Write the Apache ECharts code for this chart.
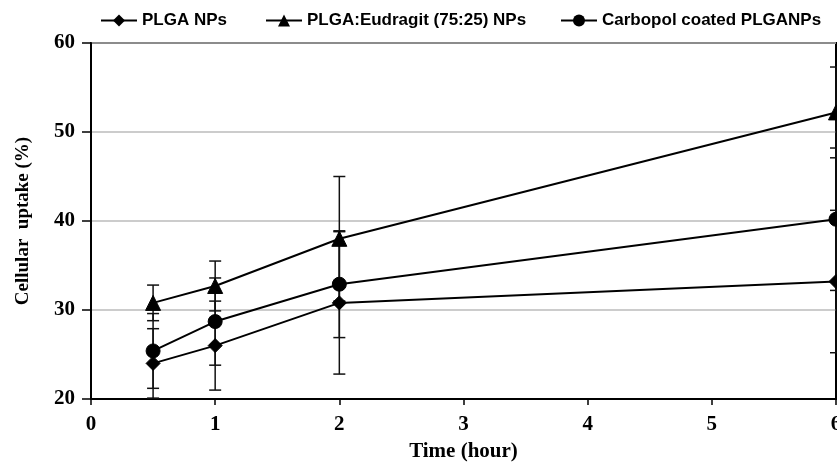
<!DOCTYPE html>
<html><head><meta charset="utf-8">
<script src="https://cdn.jsdelivr.net/npm/echarts@6/dist/echarts.min.js"></script>
<style>html,body{margin:0;padding:0;background:#fff}#c{width:837px;height:469px}</style>
</head><body><div id="c"></div>
<script>
const times = [0.5, 1, 2, 6];
const seriesNames = ['PLGA NPs', 'PLGA:Eudragit (75:25) NPs', 'Carbopol coated PLGANPs'];
const plgaVals = [24.0, 26.0, 30.8, 33.2];
const plgaErr = [3.9, 5.0, 8.0, 8.0];
const eudVals = [30.8, 32.7, 38.0, 52.2];
const eudErr = [2.0, 2.8, 7.0, 5.1];
const carbVals = [25.4, 28.7, 32.9, 40.2];
const carbErr = [4.2, 4.9, 6.0, 8.0];
const xTicks = [0, 1, 2, 3, 4, 5, 6];
const yTicks = [20, 30, 40, 50, 60];

const symbols = ['diamond', 'triangle', 'circle'];
const symSizes = [14, 15, 14];
const vals = [plgaVals, eudVals, carbVals];
const errs = [plgaErr, eudErr, carbErr];
const legendLefts = [100, 265, 560];

const serif = 'Liberation Serif, Times New Roman, serif';
const chart = echarts.init(document.getElementById('c'));

const series = [];
vals.forEach((v, si) => {
  series.push({
    type: 'custom',
    name: seriesNames[si] + ' err',
    z: 1,
    silent: true,
    data: times.map((t, i) => [t, v[i] - errs[si][i], v[i] + errs[si][i]]),
    renderItem: function (params, api) {
      const lo = api.coord([api.value(0), api.value(1)]);
      const hi = api.coord([api.value(0), api.value(2)]);
      const w = 6;
      const st = { stroke: '#111', lineWidth: 1.5 };
      return {
        type: 'group',
        children: [
          { type: 'line', shape: { x1: lo[0], y1: lo[1], x2: hi[0], y2: hi[1] }, style: st },
          { type: 'line', shape: { x1: lo[0] - w, y1: lo[1], x2: lo[0] + w, y2: lo[1] }, style: st },
          { type: 'line', shape: { x1: hi[0] - w, y1: hi[1], x2: hi[0] + w, y2: hi[1] }, style: st }
        ]
      };
    }
  });
});
vals.forEach((v, si) => {
  series.push({
    type: 'line',
    name: seriesNames[si],
    z: 3,
    data: times.map((t, i) => [t, v[i]]),
    symbol: symbols[si],
    symbolSize: symSizes[si],
    showAllSymbol: true,
    lineStyle: { color: '#000', width: 2 },
    itemStyle: { color: '#000', borderColor: '#000' }
  });
});

const legends = seriesNames.map((n, i) => ({
  data: [n],
  left: legendLefts[i],
  top: 12,
  padding: 0,
  itemWidth: 36,
  itemHeight: 15,
  textStyle: { fontFamily: 'Liberation Sans, Arial, sans-serif', fontWeight: 'bold', fontSize: 17, color: '#000' }
}));

chart.setOption({
  animation: false,
  backgroundColor: '#fff',
  legend: legends,
  grid: { left: 91, right: 1, top: 43, bottom: 70, show: true, borderColor: '#000', borderWidth: 2, outerBoundsMode: 'none', containLabel: false },
  xAxis: {
    type: 'value', min: 0, max: 6, interval: 1,
    name: 'Time (hour)', nameLocation: 'middle', nameGap: 42,
    nameTextStyle: { fontFamily: serif, fontWeight: 'bold', fontSize: 21, color: '#000' },
    axisLine: { lineStyle: { color: '#000', width: 2 } },
    axisTick: { show: true, length: 6, lineStyle: { color: '#000', width: 1.5 } },
    axisLabel: { fontFamily: serif, fontWeight: 'bold', fontSize: 21, color: '#000', margin: 15,
      formatter: v => xTicks.includes(v) ? String(v) : '' },
    splitLine: { show: false }
  },
  yAxis: {
    type: 'value', min: 20, max: 60, interval: 10,
    name: 'Cellular  uptake (%)', nameLocation: 'middle', nameGap: 58, nameRotate: 90,
    nameTextStyle: { fontFamily: serif, fontWeight: 'bold', fontSize: 19, color: '#000' },
    axisLine: { lineStyle: { color: '#000', width: 2 } },
    axisTick: { show: true, length: 9, lineStyle: { color: '#000', width: 1.5 } },
    axisLabel: { fontFamily: serif, fontWeight: 'bold', fontSize: 21, color: '#000', margin: 16,
      formatter: v => yTicks.includes(v) ? String(v) : '' },
    splitLine: { show: true, lineStyle: { color: '#bbb', width: 1.5 } }
  },
  series: series
});
</script></body></html>
